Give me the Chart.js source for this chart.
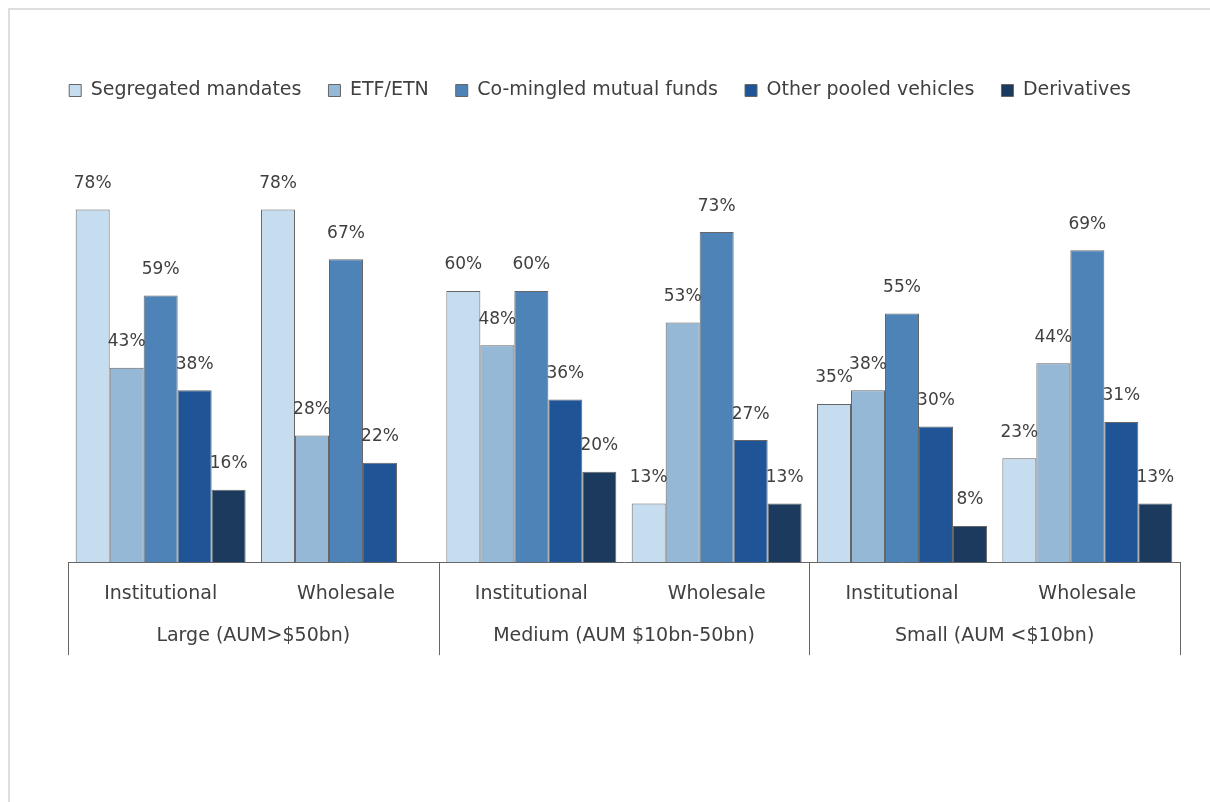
<!DOCTYPE html>
<html>
<head>
<meta charset="utf-8">
<script src="https://cdn.jsdelivr.net/npm/chart.js@4.4.1/dist/chart.umd.min.js"></script>
<style>
    html, body { margin: 0; padding: 0; background: #fff; overflow: hidden; }
    .frame { position: absolute; left: 8px; top: 8px; width: 1230px; height: 820px; border: 2px solid #dedede; }
    #mandate-chart { position: absolute; left: 0; top: 0; }
</style>
</head>
<body>
<div class="frame"></div>
<canvas id="mandate-chart" width="1210" height="802"></canvas>
<script>
const categories = ['Institutional', 'Wholesale', 'Institutional', 'Wholesale', 'Institutional', 'Wholesale'];
const groups = ['Large (AUM>$50bn)', 'Medium (AUM $10bn-50bn)', 'Small (AUM <$10bn)'];

const segregated = [78, 78, 60, 13, 35, 23];
const etfEtn = [43, 28, 48, 53, 38, 44];
const coMingled = [59, 67, 60, 73, 55, 69];
const otherPooled = [38, 22, 36, 27, 30, 31];
const derivatives = [16, null, 20, 13, 8, 13];

const FONT = "'DejaVu Sans', sans-serif";
const TEXT = '#404040';
const EDGE = '#666666';

function series(label, data, color) {
    return {
        label: label,
        data: data,
        backgroundColor: color,
        borderColor: EDGE,
        borderWidth: 1,
        categoryPercentage: 0.917,
        barPercentage: 1.0,
    };
}

// value labels drawn above each bar
const valueLabels = {
    id: 'valueLabels',
    afterDatasetsDraw(chart) {
        const ctx = chart.ctx;
        ctx.save();
        ctx.font = '17px ' + FONT;
        ctx.fillStyle = TEXT;
        ctx.textAlign = 'center';
        ctx.textBaseline = 'middle';
        chart.data.datasets.forEach((ds, i) => {
            const meta = chart.getDatasetMeta(i);
            meta.data.forEach((bar, j) => {
                const v = ds.data[j];
                if (v === null || v === undefined) return;
                ctx.fillText(v + '%', bar.x, bar.y - 26);
            });
        });
        ctx.restore();
    }
};

// second label row (size groups) plus dividers spanning both rows
const groupAxis = {
    id: 'groupAxis',
    afterDraw(chart) {
        const x = chart.scales.x;
        const ctx = chart.ctx;
        const base = chart.chartArea.bottom;
        const edges = [x.left];
        for (let g = 1; g < groups.length; g++) {
            edges.push((x.getPixelForValue(g * 2 - 1) + x.getPixelForValue(g * 2)) / 2);
        }
        edges.push(x.right);

        ctx.save();
        ctx.strokeStyle = EDGE;
        ctx.lineWidth = 1;
        edges.forEach(px => {
            const xx = Math.round(px) + 0.5;
            ctx.beginPath();
            ctx.moveTo(xx, base);
            ctx.lineTo(xx, base + 93);
            ctx.stroke();
        });

        ctx.font = '19px ' + FONT;
        ctx.fillStyle = TEXT;
        ctx.textAlign = 'center';
        ctx.textBaseline = 'middle';
        groups.forEach((name, g) => {
            ctx.fillText(name, (edges[g] + edges[g + 1]) / 2, base + 74);
        });
        ctx.restore();
    }
};

const ctx = document.getElementById('mandate-chart').getContext('2d');

new Chart(ctx, {
    type: 'bar',
    data: {
        labels: categories,
        datasets: [
            series('Segregated mandates', segregated, '#c6ddef'),
            series('ETF/ETN', etfEtn, '#95b8d6'),
            series('Co-mingled mutual funds', coMingled, '#4e83b8'),
            series('Other pooled vehicles', otherPooled, '#1f5596'),
            series('Derivatives', derivatives, '#1b3a5d'),
        ]
    },
    options: {
        responsive: false,
        animation: false,
        layout: {
            padding: { left: 20, right: 30, top: 54, bottom: 177 }
        },
        plugins: {
            legend: {
                position: 'top',
                labels: {
                    color: TEXT,
                    font: { family: FONT, size: 19 },
                    boxWidth: 12,
                    boxHeight: 12,
                    padding: 27,
                }
            },
            title: { display: false },
            tooltip: { enabled: false }
        },
        scales: {
            x: {
                offset: true,
                grid: { display: false, drawTicks: false },
                border: { display: true, color: EDGE, width: 1 },
                ticks: {
                    color: TEXT,
                    font: { family: FONT, size: 19 },
                    padding: 20,
                    maxRotation: 0,
                    autoSkip: false,
                }
            },
            y: {
                min: 0,
                max: 100,
                grid: { display: false, drawTicks: false },
                border: { display: false },
                ticks: { display: false },
                afterFit(scale) { scale.width = 48; }
            }
        }
    },
    plugins: [valueLabels, groupAxis]
});
</script>
</body>
</html>
